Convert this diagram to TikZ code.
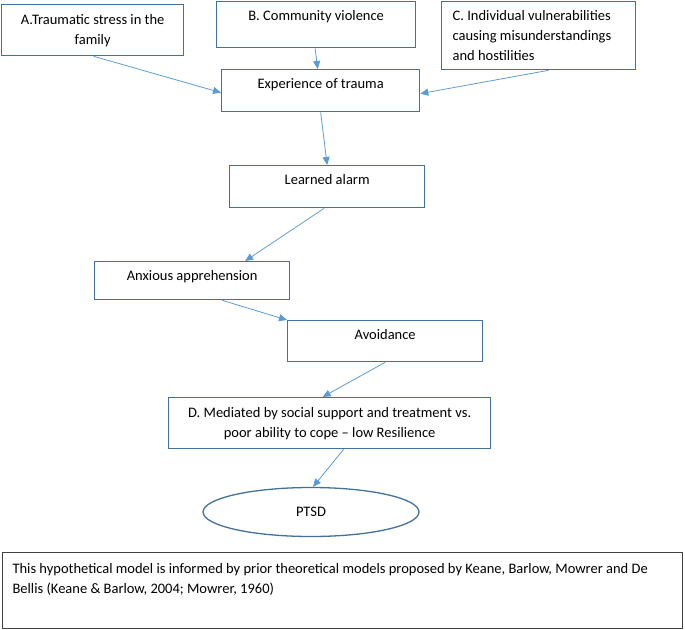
\documentclass[tikz,border=0pt]{standalone}
\usepackage{fontspec}
\setmainfont{Carlito}
\usetikzlibrary{arrows.meta,shapes.geometric}

\definecolor{boxblue}{RGB}{65,113,156}
\definecolor{arrowblue}{RGB}{91,155,213}
\definecolor{notegray}{RGB}{64,64,64}

\tikzset{
  box/.style={draw=boxblue, line width=1.3pt, anchor=north west, inner xsep=6pt, inner ysep=0pt},
  textrow/.style 2 args={text height=#1, text depth=#2},
  arr/.style={draw=arrowblue, line width=0.8pt, -{Triangle[length=8pt,width=7pt]}}
}

\begin{document}
\begin{tikzpicture}[x=1pt, y=-1pt, font=\fontsize{14.5}{20}\selectfont]
  \useasboundingbox (0,0) rectangle (685,629);

  % three sources
  \node[box, text width=170pt, align=flush center, textrow={20pt}{31pt}] (fam) at (1,4)
    {A.Traumatic stress in the\\family};
  \node[box, text width=187pt, align=flush center, textrow={19pt}{27pt}] (comm) at (216,1)
    {B. Community violence};
  \node[box, inner xsep=11pt, text width=172pt, align=flush left, textrow={19pt}{49pt}] (indiv) at (441,1)
    {C. Individual vulnerabilities\\causing misunderstandings\\and hostilities};

  % chain
  \node[box, text width=186pt, align=flush center, textrow={19pt}{23pt}] (trauma) at (221,69)
    {Experience of trauma};
  \node[box, text width=183pt, align=flush center, textrow={19pt}{23pt}] (alarm) at (229,165)
    {Learned alarm};
  \node[box, text width=183pt, align=flush center, textrow={19pt}{19pt}] (anx) at (94,261)
    {Anxious apprehension};
  \node[box, text width=183pt, align=flush center, textrow={19pt}{22pt}] (avoid) at (287,320)
    {Avoidance};
  \node[box, text width=310pt, align=flush center, textrow={20pt}{31pt}] (medi) at (168,397)
    {D. Mediated by social support and treatment vs.\\poor ability to cope -- low Resilience};
  \node[ellipse, draw=boxblue, line width=1.3pt, minimum width=216pt, minimum height=49pt,
    inner sep=0pt] (ptsd) at (311,512) {PTSD};

  % note
  \node[box, draw=notegray, line width=1.1pt, inner xsep=10pt, text width=660pt, align=flush left, textrow={21pt}{55pt}] (note) at (2,552)
    {This hypothetical model is informed by prior theoretical models proposed by Keane, Barlow, Mowrer and De\\Bellis (Keane \& Barlow, 2004; Mowrer, 1960)};

  \draw[arr] ([xshift=1pt]fam.south) -- ([yshift=-2pt]trauma.west);
  \draw[arr] ([xshift=-1pt]comm.south) -- ([xshift=-3pt]trauma.north);
  \draw[arr] ([xshift=10pt]indiv.south) -- ([yshift=-3pt]trauma.east);
  \draw[arr] (trauma.south) -- (alarm.north);
  \draw[arr] ([xshift=-3pt]alarm.south) -- ([xshift=53pt]anx.north);
  \draw[arr] ([xshift=30pt]anx.south) -- (avoid.north west);
  \draw[arr] (avoid.south) -- ([xshift=-7pt]medi.north);
  \draw[arr] ([xshift=14pt]medi.south) -- ([xshift=2pt]ptsd.north);
\end{tikzpicture}
\end{document}
